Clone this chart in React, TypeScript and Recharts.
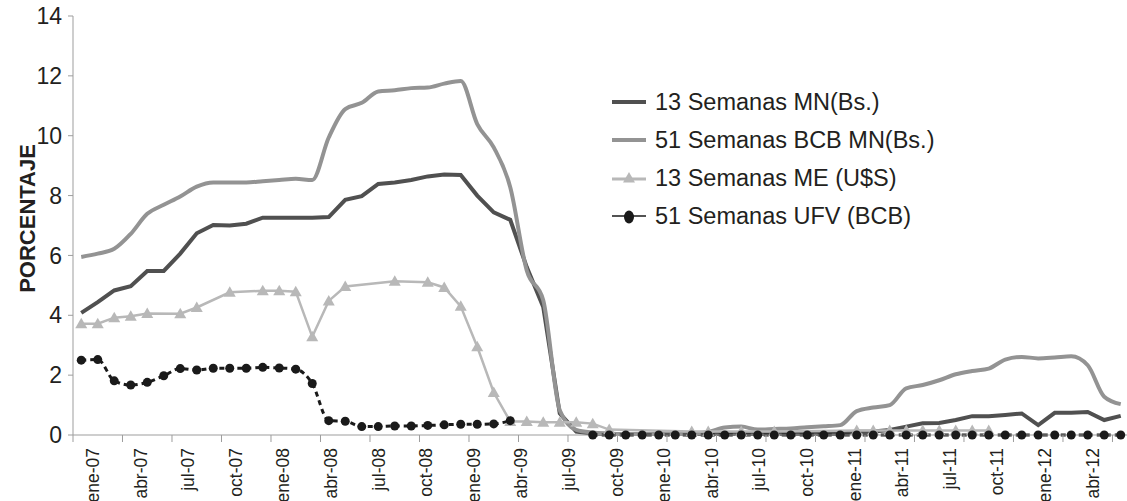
import { LineChart, Line, XAxis, YAxis, Legend, Label } from "recharts"

const FONT = "'Liberation Sans', Arial, sans-serif"
const INK = "#231f20"

// monthly auction dates, ene-07 .. abr-12
const months = [
  "ene-07", "feb-07", "mar-07", "abr-07", "may-07", "jun-07", "jul-07", "ago-07", "sep-07", "oct-07", "nov-07", "dic-07",
  "ene-08", "feb-08", "mar-08", "abr-08", "may-08", "jun-08", "jul-08", "ago-08", "sep-08", "oct-08", "nov-08", "dic-08",
  "ene-09", "feb-09", "mar-09", "abr-09", "may-09", "jun-09", "jul-09", "ago-09", "sep-09", "oct-09", "nov-09", "dic-09",
  "ene-10", "feb-10", "mar-10", "abr-10", "may-10", "jun-10", "jul-10", "ago-10", "sep-10", "oct-10", "nov-10", "dic-10",
  "ene-11", "feb-11", "mar-11", "abr-11", "may-11", "jun-11", "jul-11", "ago-11", "sep-11", "oct-11", "nov-11", "dic-11",
  "ene-12", "feb-12", "mar-12", "abr-12",
]

const tickLabels = [
  "ene-07", "abr-07", "jul-07", "oct-07", "ene-08", "abr-08", "jul-08", "oct-08", "ene-09", "abr-09", "jul-09",
  "oct-09", "ene-10", "abr-10", "jul-10", "oct-10", "ene-11", "abr-11", "jul-11", "oct-11", "ene-12", "abr-12",
]

const mn13 = [
  4.08, 4.44, 4.83, 4.97, 5.48, 5.48, 6.06, 6.74, 7.02, 7.0, 7.06, 7.26,
  7.26, 7.26, 7.26, 7.28, 7.86, 7.98, 8.39, 8.44, 8.52, 8.64, 8.7, 8.69,
  8.0, 7.44, 7.19, 5.61, 4.28, 0.72, 0.11, 0.04, 0.03, 0.03, 0.03, 0.03,
  0.03, 0.03, 0.03, 0.03, 0.03, 0.03, 0.03, 0.03, 0.03, 0.03, 0.03, 0.11,
  0.12, 0.17, 0.28, 0.39, 0.4, 0.5, 0.63, 0.63, 0.67, 0.72, 0.33, 0.74,
  0.74, 0.77, 0.5, 0.64,
]

const bcb51 = [
  5.95, 6.06, 6.22, 6.72, 7.39, 7.69, 7.97, 8.3, 8.44, 8.44, 8.44, 8.48,
  8.52, 8.56, 8.52, 9.94, 10.89, 11.1, 11.48, 11.52, 11.59, 11.61, 11.74, 11.83,
  10.39, 9.61, 8.28, 5.5, 4.5, 0.83, 0.17, 0.08, 0.05, 0.03, 0.03, 0.03,
  0.03, 0.05, 0.1, 0.25, 0.28, 0.18, 0.2, 0.22, 0.26, 0.29, 0.33, 0.8,
  0.92, 1.0, 1.56, 1.67, 1.83, 2.03, 2.14, 2.22, 2.52, 2.61, 2.56, 2.59,
  2.63, 2.33, 1.28, 1.03,
]

const me13 = [
  3.72, 3.72, 3.92, 3.97, 4.06, null, 4.05, 4.26, null, 4.77, null, 4.82,
  4.82, 4.79, 3.28, 4.48, 4.96, null, null, 5.14, null, 5.1, 4.93, 4.3,
  2.95, 1.42, 0.45, 0.45, 0.43, 0.43, 0.43, 0.38, 0.18, null, null, null,
  null, 0.12, 0.12, null, 0.12, null, 0.12, null, null, null, null, 0.15,
  0.15, 0.15, 0.15, 0.15, 0.15, 0.15, 0.15, 0.15, null, null, null, null,
  null, null, null, null,
]

const ufv51 = [
  2.5, 2.52, 1.81, 1.67, 1.76, 1.98, 2.22, 2.17, 2.23, 2.23, 2.23, 2.26,
  2.24, 2.2, 1.72, 0.48, 0.46, 0.28, 0.28, 0.3, 0.3, 0.32, 0.34, 0.36,
  0.36, 0.37, 0.48, null, null, null, null, 0, 0, 0, 0, 0,
  0, 0, 0, 0, 0, 0, 0, 0, 0, 0, 0, 0,
  0, 0, 0, 0, 0, 0, 0, 0, 0, 0, 0, 0,
  0, 0, 0, 0,
]

const yTicks = [0, 2, 4, 6, 8, 10, 12, 14]

const seriesOrder = ["mn13", "bcb51", "me13", "ufv51"]

const data = months.map((m, i) => ({
  i,
  month: m,
  mn13: mn13[i],
  bcb51: bcb51[i],
  me13: me13[i],
  ufv51: ufv51[i],
}))

// tick marks sit between the monthly categories, one every quarter
const boundaryTicks = tickLabels.map((_, j) => j * 3 - 0.5)

const colors: Record<string, string> = {
  mn13: "#505050",
  bcb51: "#939393",
  me13: "#b8b8b8",
  ufv51: "#1a1a1a",
}

const Triangle = ({ cx, cy, fill }: any) => {
  if (cx == null || cy == null) return null
  return <polygon points={`${cx - 6},${cy + 4.5} ${cx + 6},${cy + 4.5} ${cx},${cy - 6}`} fill={fill} />
}

const TriangleDot = (props: any) => {
  if (props.value == null) return <g key={props.key} />
  return <Triangle key={props.key} cx={props.cx} cy={props.cy} fill={colors.me13} />
}

const RoundDot = (props: any) => {
  if (props.value == null || props.cx == null) return <g key={props.key} />
  return <circle key={props.key} cx={props.cx} cy={props.cy} r={4.5} fill={colors.ufv51} />
}

// the original labels drift slightly left of the quarter marks towards the right end
const QuarterTick = ({ x, y, payload }: any) => {
  const j = Math.round((payload.value + 0.5) / 3)
  const lx = x + 20 - 1.9 * j
  return (
    <text
      x={lx}
      y={y}
      transform={`rotate(-90 ${lx} ${y})`}
      textAnchor="end"
      dominantBaseline="central"
      fontSize={17.5}
      fontFamily={FONT}
      fill={INK}
    >
      {tickLabels[j]}
    </text>
  )
}

const LegendIcon = ({ k }: { k: string }) => {
  if (k === "me13") {
    return (
      <svg width={36} height={20}>
        <line x1={1} y1={11} x2={35} y2={11} stroke={colors.me13} strokeWidth={3} />
        <Triangle cx={18} cy={10} fill={colors.me13} />
      </svg>
    )
  }
  if (k === "ufv51") {
    return (
      <svg width={36} height={20}>
        <line x1={1} y1={10} x2={35} y2={10} stroke={colors.ufv51} strokeWidth={1.5} />
        <ellipse cx={18} cy={11} rx={5} ry={6.5} fill={colors.ufv51} />
      </svg>
    )
  }
  return (
    <svg width={36} height={20}>
      <line x1={1} y1={10} x2={35} y2={10} stroke={colors[k]} strokeWidth={4} />
    </svg>
  )
}

const renderLegend = ({ payload }: any) => {
  const items = [...(payload || [])].sort(
    (a: any, b: any) => seriesOrder.indexOf(a.dataKey) - seriesOrder.indexOf(b.dataKey)
  )
  return (
    <div style={{ fontFamily: FONT, fontSize: 23.5, color: INK }}>
      {items.map((entry: any) => (
        <div key={entry.dataKey} style={{ display: "flex", alignItems: "center", height: 38, whiteSpace: "nowrap" }}>
          <LegendIcon k={entry.dataKey} />
          <span style={{ marginLeft: 8 }}>{entry.value}</span>
        </div>
      ))}
    </div>
  )
}

const AxisTitle = ({ viewBox }: any) => {
  const cx = viewBox.x + 27
  const cy = viewBox.y + viewBox.height / 2 - 7
  return (
    <text
      x={cx}
      y={cy}
      transform={`rotate(-90 ${cx} ${cy})`}
      textAnchor="middle"
      dominantBaseline="central"
      fontSize={22}
      fontWeight="bold"
      fontFamily={FONT}
      fill={INK}
    >
      PORCENTAJE
    </text>
  )
}

export default function App() {
  return (
    <div style={{ position: "absolute", left: 0, top: 0, width: 1127, height: 501, background: "#fff" }}>
      <LineChart width={1127} height={501} data={data} margin={{ top: 16, right: 0, bottom: 0, left: 0 }}>
        <XAxis
          dataKey="i"
          type="number"
          domain={[-0.5, 63.38]}
          allowDataOverflow
          ticks={boundaryTicks}
          interval={0}
          tick={<QuarterTick />}
          tickSize={7}
          tickMargin={6}
          height={66}
          stroke="#9d9d9d"
        />
        <YAxis
          domain={[0, 14]}
          ticks={yTicks}
          interval={0}
          width={73}
          tickSize={5}
          tickMargin={6}
          stroke="#9d9d9d"
          tick={{ fill: INK, fontSize: 23, fontFamily: FONT }}
          label={<Label content={<AxisTitle />} />}
        />
        <Legend
          layout="vertical"
          align="center"
          verticalAlign="middle"
          wrapperStyle={{ left: 611, top: 83, width: 470 }}
          content={renderLegend}
        />
        <Line
          name="13 Semanas MN(Bs.)"
          dataKey="mn13"
          type="linear"
          stroke={colors.mn13}
          strokeWidth={4}
          dot={false}
          isAnimationActive={false}
        />
        <Line
          name="51 Semanas BCB MN(Bs.)"
          dataKey="bcb51"
          type="monotone"
          stroke={colors.bcb51}
          strokeWidth={4}
          dot={false}
          isAnimationActive={false}
        />
        <Line
          name="13 Semanas ME (U$S)"
          dataKey="me13"
          type="linear"
          stroke={colors.me13}
          strokeWidth={2.5}
          connectNulls
          dot={TriangleDot}
          isAnimationActive={false}
        />
        <Line
          name="51 Semanas UFV (BCB)"
          dataKey="ufv51"
          type="monotone"
          stroke={colors.ufv51}
          strokeWidth={3}
          strokeDasharray="5 4"
          dot={RoundDot}
          isAnimationActive={false}
        />
      </LineChart>
    </div>
  )
}
